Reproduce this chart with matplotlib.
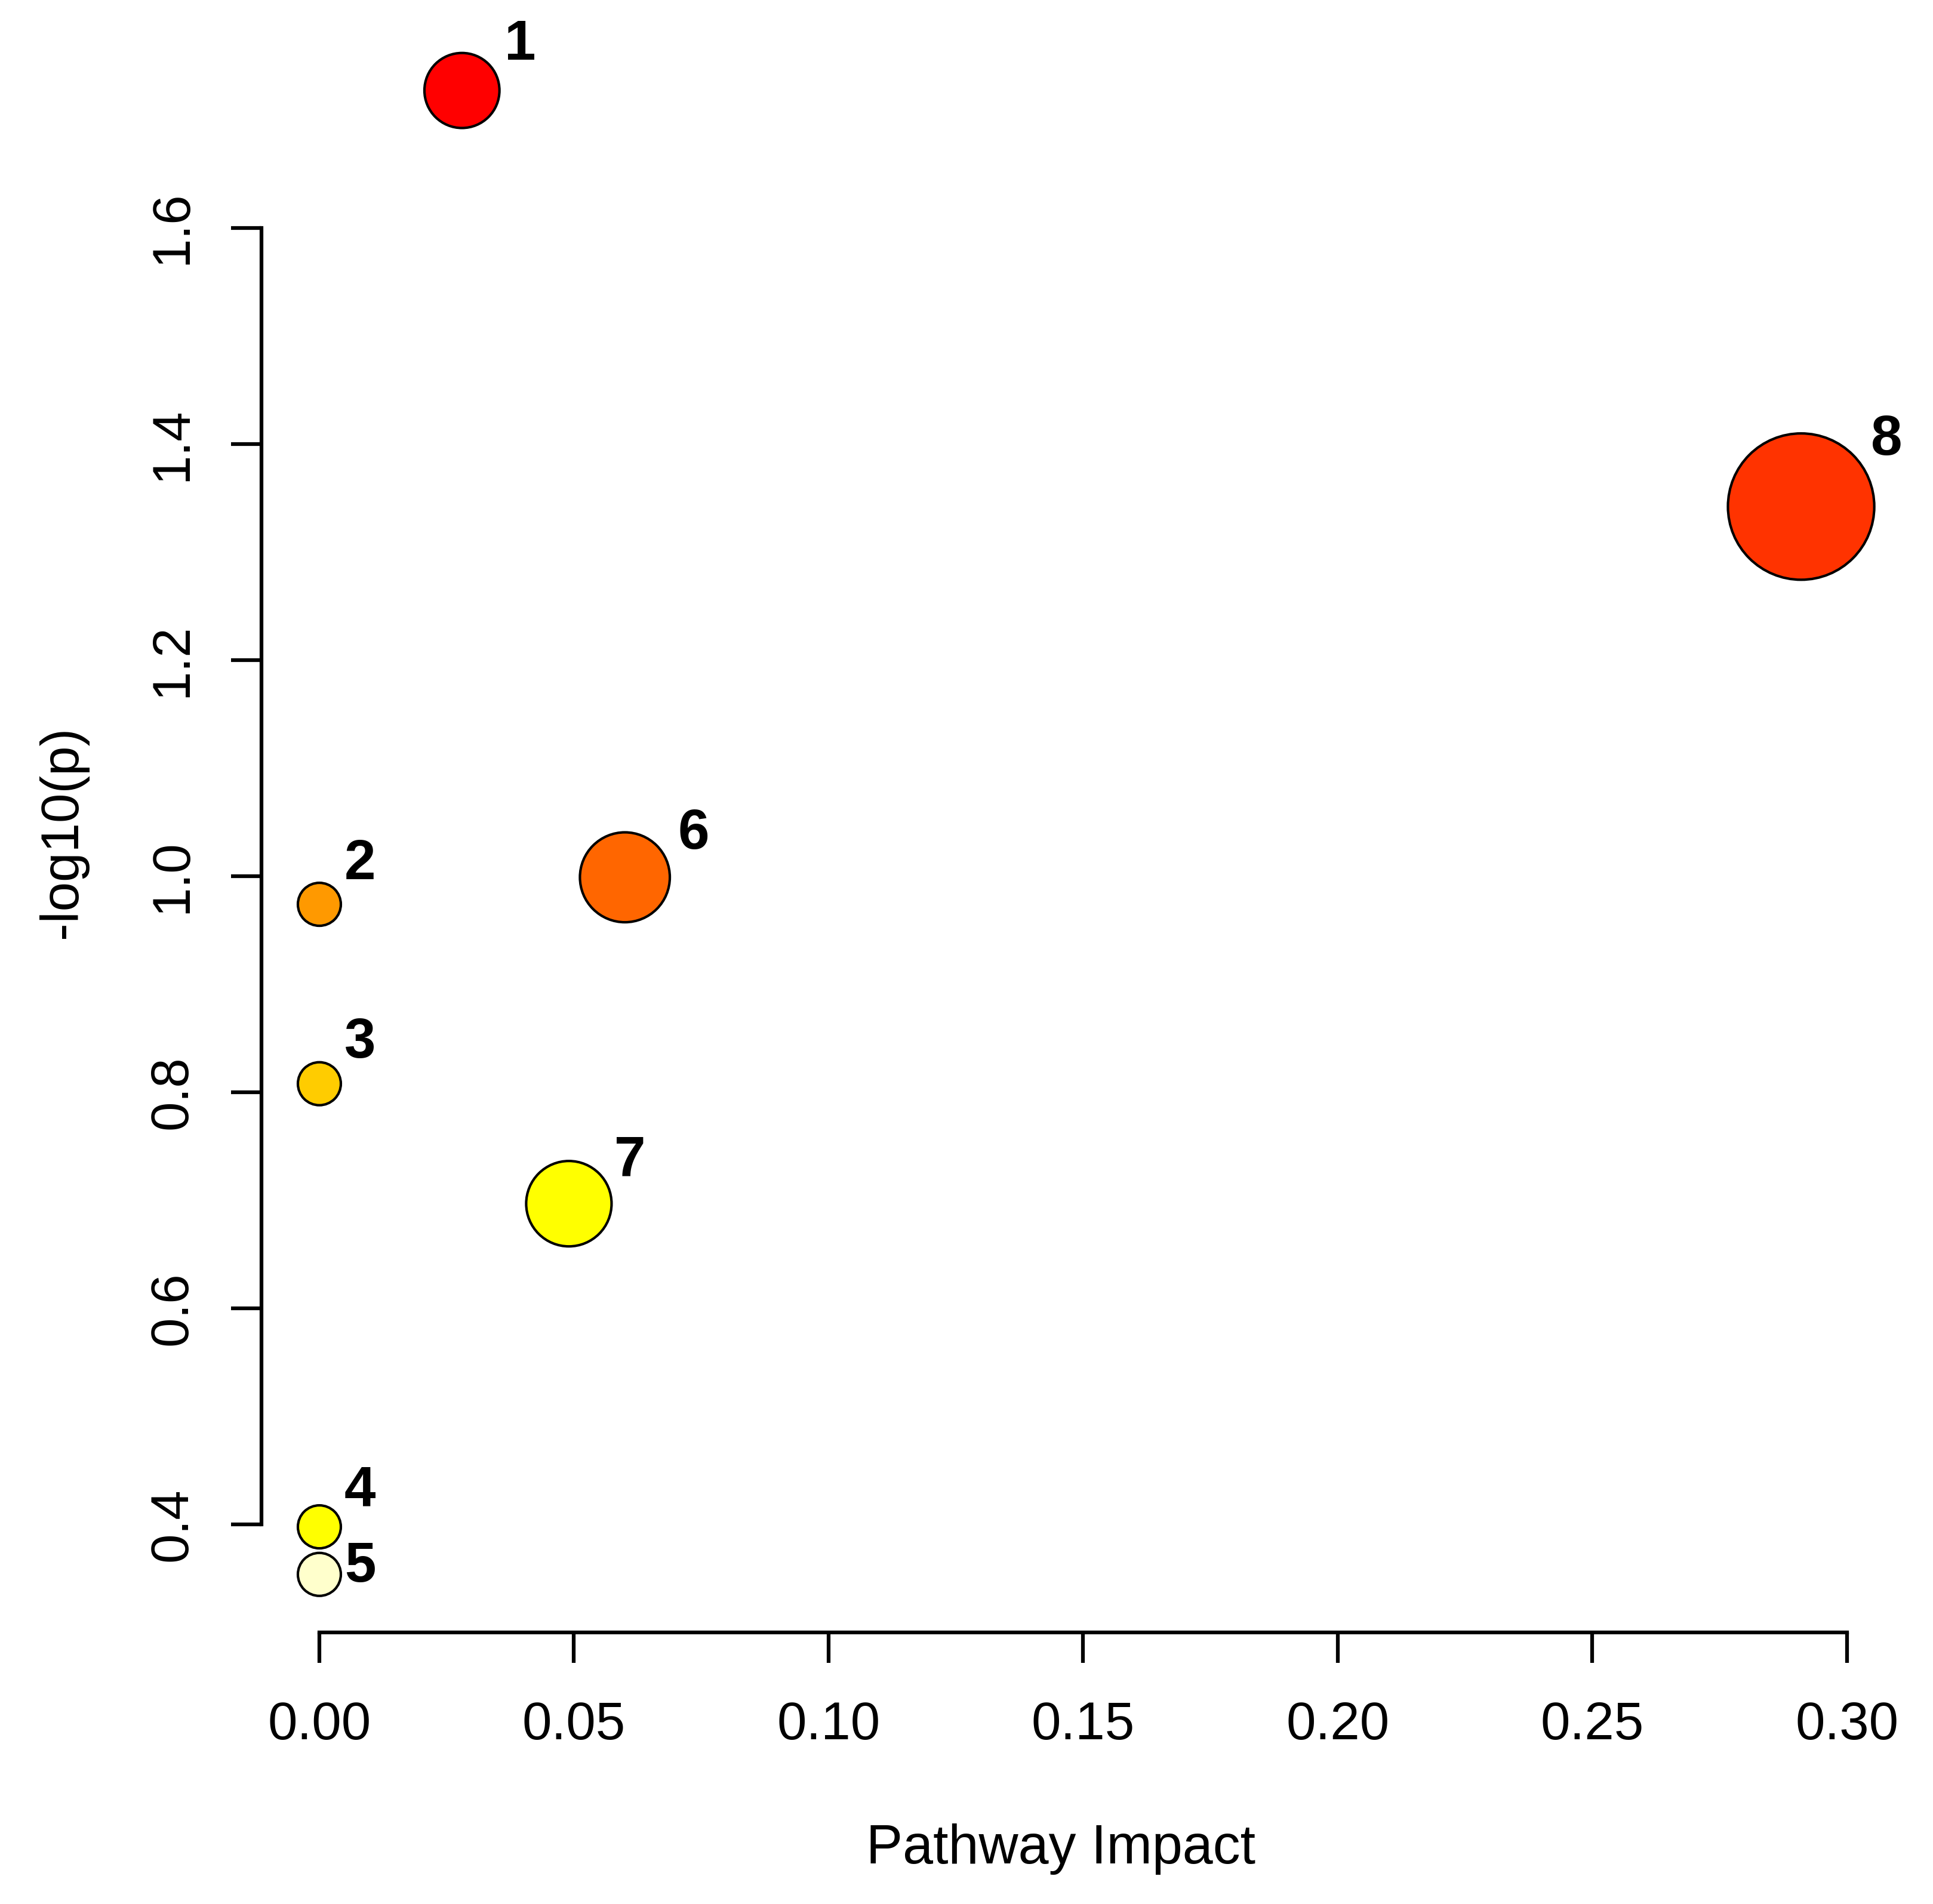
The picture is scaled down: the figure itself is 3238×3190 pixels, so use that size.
import numpy as np
import matplotlib
matplotlib.use("Agg")
import matplotlib.pyplot as plt
from matplotlib import font_manager

# ---- data ----
labels = ["1", "2", "3", "4", "5", "6", "7", "8"]
impact = [0.028, 0.0, 0.0, 0.0, 0.0, 0.060, 0.049, 0.291]
neglogp = [1.727, 0.974, 0.808, 0.398, 0.354, 0.999, 0.697, 1.342]
colors = ["#FF0000", "#FF9900", "#FFCC00", "#FFFF00", "#FFFFCC", "#FF6600", "#FFFF00", "#FF3300"]
xticks = [0.00, 0.05, 0.10, 0.15, 0.20, 0.25, 0.30]
yticks = [0.4, 0.6, 0.8, 1.0, 1.2, 1.4, 1.6]

# label offsets (points) relative to each bubble centre
label_dx = [70, 49, 49, 49, 49, 83, 74, 103]
label_dy = [55, 48, 49, 43, 9, 52, 51, 80]

avail = {f.name for f in font_manager.fontManager.ttflist}
fam = "Liberation Sans" if "Liberation Sans" in avail else "DejaVu Sans"
plt.rcParams["font.family"] = [fam, "DejaVu Sans"]

W, H = 3238, 3190
fig = plt.figure(figsize=(W / 100, H / 100), dpi=100)
L, R, B, T = 438, 3116, 2735, 52
ax = fig.add_axes([L / W, 1 - B / H, (R - L) / W, (B - T) / H])
ax.set_xlim(-0.01137, 0.3026)
ax.set_ylim(0.3003, 1.782)

# bubble diameter (px) grows with sqrt(impact)
diam_px = 72 + 321 * np.sqrt(np.array(impact))
diam_pt = diam_px * 0.72
ax.scatter(impact, neglogp, s=diam_pt ** 2, c=colors, edgecolors="black",
           linewidths=3.0, zorder=3, clip_on=False)

for i, lab in enumerate(labels):
    ax.annotate(lab, (impact[i], neglogp[i]), xytext=(label_dx[i], label_dy[i]),
                textcoords="offset points", ha="center", va="center",
                fontsize=68, fontweight="bold", color="black", zorder=4)

for s in ["top", "right"]:
    ax.spines[s].set_visible(False)
ax.spines["left"].set_bounds(0.4, 1.6)
ax.spines["bottom"].set_bounds(0.0, 0.30)
for s in ["left", "bottom"]:
    ax.spines[s].set_linewidth(4.5)

ax.set_xticks(xticks)
ax.set_xticklabels([f"{v:.2f}" for v in xticks])
ax.set_yticks(yticks)
ax.set_yticklabels([f"{v:.1f}" for v in yticks], rotation=90, va="center")
ax.tick_params(axis="both", direction="out", length=37, width=4.5, labelsize=64, colors="black")
ax.tick_params(axis="x", pad=45)
ax.tick_params(axis="y", pad=40)

ax.set_xlabel("Pathway Impact", fontsize=66, labelpad=88)
ax.set_ylabel("-log10(p)", fontsize=64, labelpad=72)

fig.savefig("out.png", dpi=100, facecolor="white")
